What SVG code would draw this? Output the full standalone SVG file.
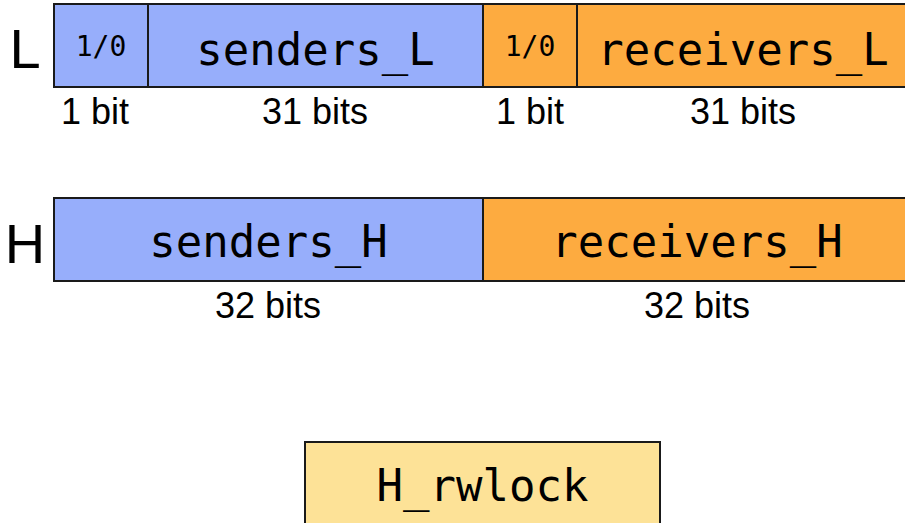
<svg xmlns="http://www.w3.org/2000/svg" width="905" height="523" viewBox="0 0 905 523">
  <style>
    .cell { stroke: #1a1a1a; stroke-width: 2; }
    .snd { fill: #97aefb; }
    .rcv { fill: #fdab40; }
    .lock { fill: #fde297; }
    .mono { font-family: "DejaVu Sans Mono", "Liberation Mono", monospace; fill: #000; text-anchor: middle; }
    .big { font-size: 44px; }
    .small { font-size: 28px; }
    .sans { font-family: "Liberation Sans", Arial, sans-serif; fill: #000; text-anchor: middle; }
    .row { font-size: 56px; }
    .bits { font-size: 36px; }
  </style>
  <rect width="905" height="523" fill="#fff"/>

  <!-- L word -->
  <g id="row-L">
    <text class="sans row" x="25" y="68">L</text>
    <g id="L-sender-flag">
      <rect class="cell snd" x="54" y="4" width="94" height="83"/>
      <text class="mono small" x="101" y="56">1/0</text>
      <text class="sans bits" x="95" y="124">1 bit</text>
    </g>
    <g id="L-senders">
      <rect class="cell snd" x="148" y="4" width="335" height="83"/>
      <text class="mono big" x="315.5" y="65">senders_L</text>
      <text class="sans bits" x="315" y="124">31 bits</text>
    </g>
    <g id="L-receiver-flag">
      <rect class="cell rcv" x="483" y="4" width="94" height="83"/>
      <text class="mono small" x="530" y="56">1/0</text>
      <text class="sans bits" x="530" y="124">1 bit</text>
    </g>
    <g id="L-receivers">
      <rect class="cell rcv" x="577" y="4" width="335" height="83"/>
      <text class="mono big" x="743" y="65">receivers_L</text>
      <text class="sans bits" x="743" y="124">31 bits</text>
    </g>
  </g>

  <!-- H word -->
  <g id="row-H">
    <text class="sans row" x="25" y="263">H</text>
    <g id="H-senders">
      <rect class="cell snd" x="54" y="198" width="429" height="83"/>
      <text class="mono big" x="268.5" y="257">senders_H</text>
      <text class="sans bits" x="268" y="318">32 bits</text>
    </g>
    <g id="H-receivers">
      <rect class="cell rcv" x="483" y="198" width="429" height="83"/>
      <text class="mono big" x="697" y="257">receivers_H</text>
      <text class="sans bits" x="697" y="318">32 bits</text>
    </g>
  </g>

  <!-- lock guarding the H word -->
  <g id="H-rwlock">
    <rect class="cell lock" x="305" y="442" width="355" height="100"/>
    <text class="mono big" x="482.5" y="501">H_rwlock</text>
  </g>
</svg>
